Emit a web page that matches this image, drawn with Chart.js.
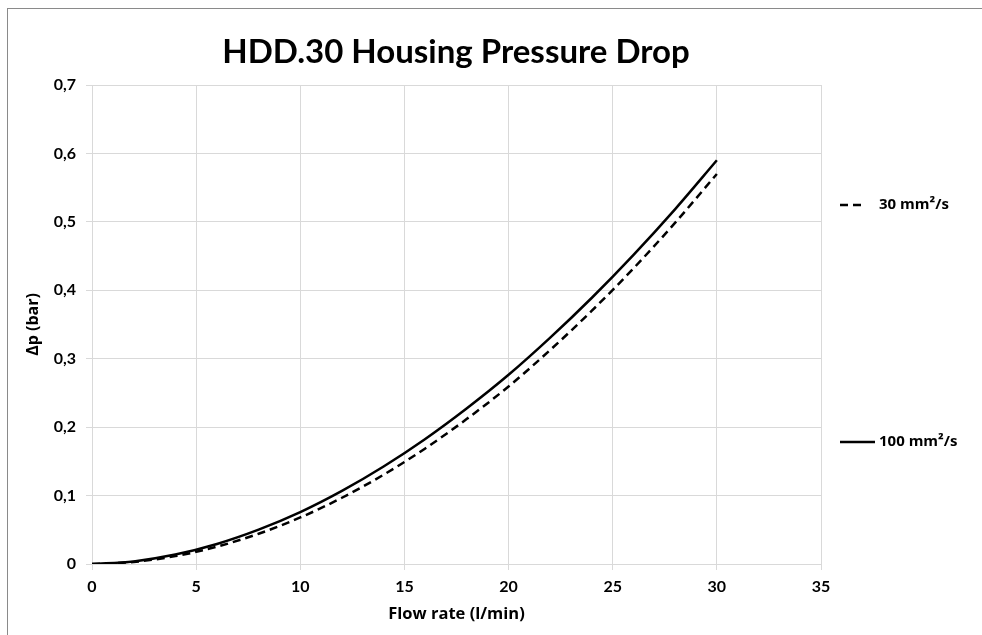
<!DOCTYPE html>
<html>
<head>
<meta charset="utf-8">
<script src="https://cdn.jsdelivr.net/npm/chart.js@4"></script>
<style>
html,body{margin:0;padding:0;background:#fff;}
#wrap{position:relative;width:982px;height:635px;}
</style>
</head>
<body>
<div id="wrap"><canvas id="c" width="982" height="635"></canvas></div>
<script>
const chartTitle = "HDD.30 Housing Pressure Drop";
const xTitle = "Flow rate (l/min)";
const yTitle = "\u0394p (bar)";
const flowRate = [0, 2, 4, 6, 8, 10, 12, 14, 16, 18, 20, 22, 24, 26, 28, 30];
const dp30 = [0, 0.003, 0.0115, 0.0253, 0.0442, 0.068, 0.0968, 0.1305, 0.1689, 0.2121, 0.2595, 0.3128, 0.3702, 0.4321, 0.4988, 0.57];
const dp100 = [0, 0.0038, 0.0138, 0.0293, 0.0502, 0.0758, 0.1068, 0.1424, 0.1827, 0.2276, 0.2765, 0.3308, 0.3891, 0.4518, 0.5187, 0.59];
const seriesNames = ["30 mm\u00b2/s", "100 mm\u00b2/s"];
const xTicks = [0, 5, 10, 15, 20, 25, 30, 35];
const yTicks = [0, 0.1, 0.2, 0.3, 0.4, 0.5, 0.6, 0.7];

const FONT = "Lato, 'Open Sans', sans-serif";
const FONT2 = "'Open Sans', Lato, sans-serif";
const GRID = "#d9d9d9";

const toPts = (xs, ys) => xs.map((x, i) => ({x: x, y: ys[i]}));

const decor = {
  id: 'decor',
  beforeDraw(chart) {
    const ctx = chart.ctx;
    ctx.save();
    ctx.fillStyle = '#fff';
    ctx.fillRect(0, 0, chart.width, chart.height);
    ctx.strokeStyle = '#8a8a8a';
    ctx.lineWidth = 1;
    ctx.strokeRect(7.5, 8.5, 1200, 1200);
    ctx.restore();
  },
  afterDraw(chart) {
    const ctx = chart.ctx;
    ctx.save();
    ctx.fillStyle = '#000';
    ctx.textBaseline = 'alphabetic';
    ctx.textAlign = 'center';
    ctx.font = "bold 33px " + FONT;
    ctx.fillText(chartTitle, 456, 63);
    // legend entries
    ctx.font = "bold 15px " + FONT2;
    ctx.textAlign = 'left';
    ctx.textBaseline = 'middle';
    ctx.strokeStyle = '#000';
    ctx.lineWidth = 2.5;
    ctx.setLineDash([8, 5]);
    ctx.beginPath(); ctx.moveTo(840, 205); ctx.lineTo(866, 205); ctx.stroke();
    ctx.fillText(seriesNames[0], 879, 205);
    ctx.setLineDash([]);
    ctx.beginPath(); ctx.moveTo(840, 442); ctx.lineTo(875, 442); ctx.stroke();
    ctx.fillText(seriesNames[1], 879, 442);
    ctx.restore();
  }
};

new Chart(document.getElementById('c'), {
  type: 'scatter',
  data: {
    datasets: [
      {
        label: seriesNames[0],
        data: toPts(flowRate, dp30),
        showLine: true,
        borderColor: '#000',
        borderWidth: 2.5,
        borderDash: [8, 5],
        pointRadius: 0,
        cubicInterpolationMode: 'monotone',
        fill: false
      },
      {
        label: seriesNames[1],
        data: toPts(flowRate, dp100),
        showLine: true,
        borderColor: '#000',
        borderWidth: 2.5,
        pointRadius: 0,
        cubicInterpolationMode: 'monotone',
        fill: false
      }
    ]
  },
  options: {
    responsive: false,
    animation: false,
    devicePixelRatio: 1,
    layout: { padding: { left: 7, top: 85, right: 161, bottom: 0 } },
    plugins: { legend: { display: false }, title: { display: false }, tooltip: { enabled: false } },
    scales: {
      x: {
        type: 'linear',
        min: 0, max: 35,
        afterBuildTicks: (s) => { s.ticks = xTicks.map(v => ({value: v})); },
        afterFit: (s) => { s.height = 71; },
        grid: { color: GRID, lineWidth: 1, tickLength: 6, tickColor: GRID },
        border: { color: GRID },
        ticks: { color: '#000', font: { family: FONT, size: 16, weight: 'bold' }, padding: 7, maxRotation: 0,
          callback: (v) => String(v) },
        title: { display: true, text: xTitle, color: '#000', font: { family: FONT2, size: 16.5, weight: 'bold' }, padding: { top: 0, bottom: 11 } }
      },
      y: {
        type: 'linear',
        min: 0, max: 0.7,
        afterBuildTicks: (s) => { s.ticks = yTicks.map(v => ({value: v})); },
        afterFit: (s) => { s.width = 85; },
        grid: { color: GRID, lineWidth: 1, tickLength: 6, tickColor: GRID },
        border: { color: GRID },
        ticks: { color: '#000', font: { family: FONT, size: 16, weight: 'bold' }, padding: 10,
          callback: (v) => v === 0 ? '0' : (Math.round(v * 10) / 10).toFixed(1).replace('.', ',') },
        title: { display: true, text: yTitle, color: '#000', font: { family: FONT2, size: 16, weight: 'bold' }, padding: { top: 17, bottom: 0 } }
      }
    }
  },
  plugins: [decor]
});
</script>
</body>
</html>
